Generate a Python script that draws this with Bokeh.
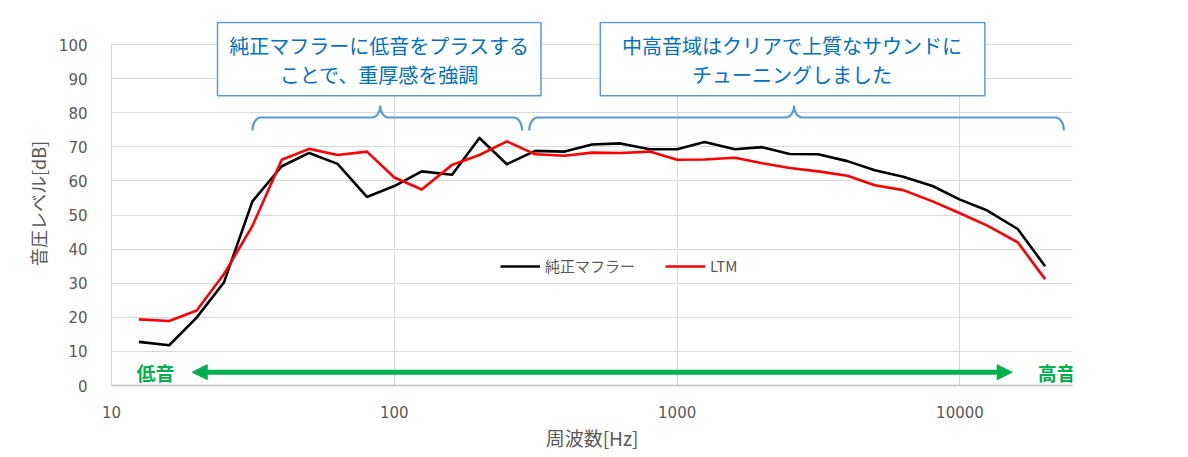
import numpy as np
from bokeh.plotting import figure
from bokeh.models import (Range1d, FixedTicker, NumeralTickFormatter, Label, Arrow,
                          NormalHead, Legend, LegendItem, ColumnDataSource)
from bokeh.embed import file_html
from bokeh.resources import INLINE

# ---- data ----
freqs = [12.5, 16, 20, 25, 31.5, 40, 50, 63, 80, 100, 125, 160, 200, 250, 315, 400, 500,
         630, 800, 1000, 1250, 1600, 2000, 2500, 3150, 4000, 5000, 6300, 8000, 10000,
         12500, 16000, 20000]
stock = [12.8, 11.8, 19.9, 30.3, 54.0, 64.3, 68.2, 65.0, 55.3, 58.5, 62.8, 61.8, 72.6,
         64.9, 68.8, 68.6, 70.7, 71.0, 69.3, 69.3, 71.4, 69.3, 69.9, 67.9, 67.8, 65.8,
         63.1, 61.2, 58.5, 54.5, 51.3, 45.9, 35.0]
ltm = [19.4, 18.9, 22.0, 32.7, 46.8, 66.2, 69.4, 67.6, 68.6, 61.0, 57.5, 64.7, 67.6,
       71.6, 67.8, 67.4, 68.3, 68.2, 68.6, 66.2, 66.3, 66.8, 65.2, 63.8, 62.8, 61.5,
       58.7, 57.3, 54.0, 50.5, 46.9, 42.0, 31.2]
series_names = ["純正マフラー", "LTM"]
x_ticks = [10, 100, 1000, 10000]
y_ticks = list(range(0, 101, 10))

note1 = ["純正マフラーに低音をプラスする", "ことで、重厚感を強調"]
note2 = ["中高音域はクリアで上質なサウンドに", "チューニングしました"]
low_label = "低音"
high_label = "高音"

FONT = "Noto Sans CJK JP"
NUMFONT = "DejaVu Sans"
GREY = "#595959"
BLUE_TXT = "#0070C0"
BLUE_LINE = "#5B9BD5"
GREEN = "#00B050"

p = figure(width=1180, height=455, x_axis_type="log",
           x_range=Range1d(10, 25000), y_range=Range1d(0, 106.75),
           output_backend="svg", toolbar_location=None,
           min_border_left=111, min_border_right=108,
           min_border_top=21, min_border_bottom=70)
p.outline_line_color = None
p.background_fill_color = "white"

# axes
p.xaxis.ticker = FixedTicker(ticks=x_ticks)
p.xaxis.formatter = NumeralTickFormatter(format="0")
p.yaxis.ticker = FixedTicker(ticks=y_ticks)
p.yaxis.bounds = (0, 100)
for ax in (p.xaxis, p.yaxis):
    ax.major_tick_line_color = None
    ax.minor_tick_line_color = None
    ax.major_label_text_font = NUMFONT
    ax.major_label_text_font_size = "15px"
    ax.major_label_text_color = GREY
    ax.axis_label_text_font = FONT
    ax.axis_label_text_color = GREY
    ax.axis_label_text_font_style = "normal"
p.xaxis.axis_label_text_font_size = "19px"
p.yaxis.axis_label_text_font_size = "18px"
p.xaxis.axis_line_color = "#BFBFBF"
p.xaxis.axis_line_width = 1.5
p.yaxis.axis_line_color = "#D9D9D9"
p.yaxis.axis_line_width = 1
p.xaxis.major_label_standoff = 14
p.yaxis.major_label_standoff = 18
p.xaxis.axis_label = "周波数[Hz]"
p.yaxis.axis_label = "音圧レベル[dB]"
p.xaxis.axis_label_standoff = 3
p.yaxis.axis_label_standoff = 5

p.xgrid.ticker = FixedTicker(ticks=x_ticks)
p.ygrid.ticker = FixedTicker(ticks=y_ticks)
p.grid.grid_line_color = "#D9D9D9"
p.grid.grid_line_width = 1

# curves
src = ColumnDataSource(dict(f=freqs, stock=stock, ltm=ltm))
r1 = p.line("f", "stock", source=src, line_color="black", line_width=2.6, line_join="round")
r2 = p.line("f", "ltm", source=src, line_color="#FF0000", line_width=2.6, line_join="round")

legend = Legend(items=[LegendItem(label=series_names[0], renderers=[r1]),
                       LegendItem(label=series_names[1], renderers=[r2])],
                orientation="horizontal", location=(389, 109),
                border_line_color=None, background_fill_alpha=0,
                padding=0, margin=0, glyph_width=40, glyph_height=20,
                label_text_font=FONT, label_text_font_size="15px",
                label_text_color=GREY, label_standoff=5, spacing=30,
                label_text_baseline="middle")
p.add_layout(legend)

# note boxes
p.quad(left=[23.7, 535], right=[330, 12250], top=[106.45, 106.45], bottom=[85.0, 85.0],
       fill_color="white", line_color=BLUE_LINE, line_width=1.5)
for cx, lines in ((88.5, note1), (2547, note2)):
    for yy, t in zip((99.6, 91.1), lines):
        p.add_layout(Label(x=cx, y=yy, text=t, text_align="center", text_baseline="middle",
                           text_font=FONT, text_font_size="20px", text_color=BLUE_TXT))

# curly braces (shape geometry, in log10 x / data y)
def brace(x0, x1, xt, y_line, y_tip, y_end, r=0.03, n=16):
    lx0, lx1, lxt = np.log10(x0), np.log10(x1), np.log10(xt)
    t = np.linspace(0, np.pi / 2, n)
    xs, ys = [], []
    xs += list(lx0 + r * (1 - np.cos(t))); ys += list(y_end + (y_line - y_end) * np.sin(t))
    xs += list(lxt - r + r * np.sin(t)); ys += list(y_line + (y_tip - y_line) * (1 - np.cos(t)))
    xs += list(lxt + r - r * np.cos(t)); ys += list(y_tip - (y_tip - y_line) * np.sin(t))
    xs += list(lx1 - r + r * np.sin(t)); ys += list(y_line - (y_line - y_end) * (1 - np.cos(t)))
    return list(10 ** np.array(xs)), ys

for (a, b, c) in ((31.5, 283, 89.2), (300, 23300, 2590)):
    bx, by = brace(a, b, c, 78.6, 82.1, 74.8)
    p.line(bx, by, line_color=BLUE_LINE, line_width=2.2)

# green low/high arrow
p.add_layout(Arrow(start=NormalHead(size=15, fill_color=GREEN, line_color=GREEN),
                   end=NormalHead(size=15, fill_color=GREEN, line_color=GREEN),
                   x_start=19.3, y_start=3.9, x_end=15300, y_end=3.9,
                   line_color=GREEN, line_width=5))
p.add_layout(Label(x=14.3, y=3.9, text=low_label, text_align="center", text_baseline="middle",
                   text_font=FONT, text_font_size="19px", text_font_style="bold",
                   text_color=GREEN))
p.add_layout(Label(x=22000, y=3.9, text=high_label, text_align="center", text_baseline="middle",
                   text_font=FONT, text_font_size="19px", text_font_style="bold",
                   text_color=GREEN))

open("out.html", "w").write(file_html(p, INLINE))
